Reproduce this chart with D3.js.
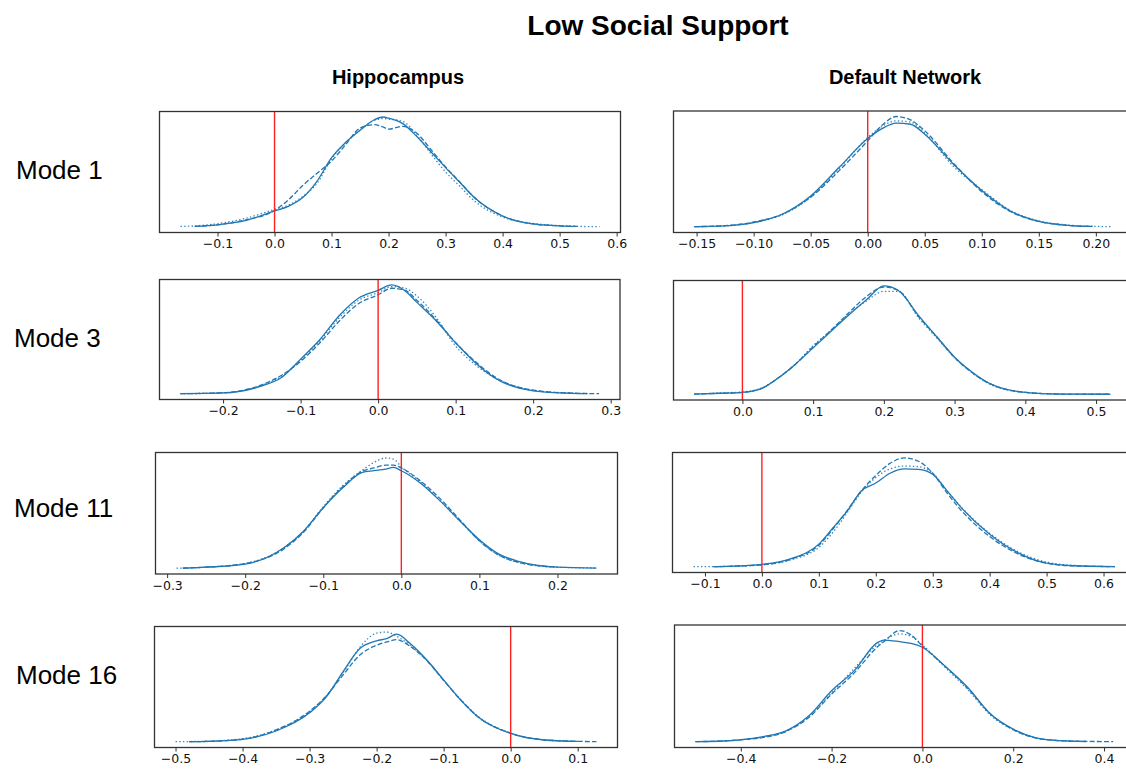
<!DOCTYPE html>
<html>
<head>
<meta charset="utf-8">
<script src="https://cdn.jsdelivr.net/npm/d3@7"></script>
<style>
  body { margin: 0; background: #fff; }
  svg { display: block; }
</style>
</head>
<body>
<div id="chart"></div>
<script>
// Title / labels
const title = 'Low Social Support';
const columns = ['Hippocampus', 'Default Network'];
const rows = ['Mode 1', 'Mode 3', 'Mode 11', 'Mode 16'];

// Hippocampus, Mode 1
const h1_x      = [-0.165, -0.14, -0.1, -0.05, 0, 0.025, 0.05, 0.075, 0.1, 0.125, 0.15, 0.175, 0.19, 0.2, 0.225, 0.25, 0.275, 0.3, 0.325, 0.35, 0.4, 0.45, 0.5, 0.53, 0.57];
const h1_solid  = [null, 0.005, 0.02, 0.06, 0.146, 0.19, 0.27, 0.42, 0.63, 0.77, 0.88, 0.975, 1.0, 0.99, 0.94, 0.82, 0.68, 0.54, 0.405, 0.27, 0.10, 0.03, 0.01, 0.005, null];
const h1_dashed = [null, 0.005, 0.02, 0.065, 0.15, 0.25, 0.38, 0.49, 0.6, 0.75, 0.9, 0.93, 0.91, 0.89, 0.915, 0.85, 0.70, 0.545, 0.41, 0.27, 0.10, 0.03, 0.01, 0.005, null];
const h1_dotted = [0.005, 0.01, 0.03, 0.08, 0.16, 0.2, 0.28, 0.40, 0.62, 0.77, 0.88, 0.97, 0.985, 0.98, 0.96, 0.83, 0.66, 0.50, 0.37, 0.24, 0.09, 0.035, 0.012, 0.006, 0.003];

// Default Network, Mode 1
const d1_x      = [-0.152, -0.125, -0.1, -0.075, -0.05, -0.025, 0, 0.0125, 0.025, 0.0375, 0.05, 0.075, 0.1, 0.125, 0.15, 0.175, 0.197, 0.213];
const d1_solid  = [0.003, 0.01, 0.04, 0.115, 0.28, 0.54, 0.80, 0.89, 0.94, 0.93, 0.84, 0.57, 0.33, 0.145, 0.05, 0.015, 0.005, null];
const d1_dashed = [0.003, 0.012, 0.045, 0.115, 0.27, 0.51, 0.78, 0.92, 1.0, 0.97, 0.87, 0.58, 0.32, 0.14, 0.05, 0.015, 0.005, null];
const d1_dotted = [0.003, 0.01, 0.04, 0.11, 0.27, 0.53, 0.81, 0.91, 0.96, 0.95, 0.85, 0.55, 0.34, 0.15, 0.055, 0.018, 0.006, 0.003];

// Hippocampus, Mode 3
const h3_x      = [-0.255, -0.2, -0.15, -0.125, -0.1, -0.075, -0.05, -0.025, 0, 0.0175, 0.035, 0.05, 0.075, 0.1, 0.125, 0.15, 0.2, 0.25, 0.27, 0.285];
const h3_solid  = [0.003, 0.01, 0.075, 0.15, 0.32, 0.50, 0.72, 0.88, 0.95, 1.0, 0.945, 0.84, 0.67, 0.47, 0.29, 0.15, 0.03, 0.007, 0.004, null];
const h3_dashed = [0.003, 0.012, 0.085, 0.17, 0.30, 0.47, 0.67, 0.83, 0.91, 0.97, 0.95, 0.86, 0.68, 0.47, 0.30, 0.16, 0.035, 0.008, 0.005, 0.003];
const h3_dotted = [0.003, 0.01, 0.08, 0.16, 0.31, 0.49, 0.70, 0.86, 0.93, 0.985, 0.97, 0.90, 0.70, 0.44, 0.27, 0.15, 0.035, 0.008, 0.004, null];

// Default Network, Mode 3
const d3_x      = [-0.068, -0.03, 0, 0.025, 0.05, 0.075, 0.1, 0.125, 0.15, 0.175, 0.2, 0.22, 0.25, 0.275, 0.3, 0.325, 0.35, 0.4, 0.45, 0.52];
const d3_solid  = [0.005, 0.012, 0.02, 0.05, 0.15, 0.28, 0.43, 0.58, 0.73, 0.87, 1.0, 0.96, 0.72, 0.53, 0.345, 0.205, 0.10, 0.02, 0.005, 0.003];
const d3_dashed = [0.005, 0.012, 0.02, 0.05, 0.15, 0.28, 0.44, 0.59, 0.75, 0.90, 0.99, 0.96, 0.71, 0.53, 0.34, 0.20, 0.10, 0.02, 0.005, 0.003];
const d3_dotted = [0.005, 0.015, 0.025, 0.055, 0.15, 0.28, 0.45, 0.59, 0.74, 0.86, 0.95, 0.95, 0.70, 0.52, 0.34, 0.20, 0.095, 0.02, 0.005, 0.003];

// Hippocampus, Mode 11
const h11_x      = [-0.288, -0.28, -0.25, -0.2, -0.15, -0.125, -0.1, -0.075, -0.05, -0.035, -0.02, -0.01, 0, 0.025, 0.05, 0.075, 0.1, 0.125, 0.15, 0.2, 0.25];
const h11_solid  = [null, 0.003, 0.012, 0.04, 0.19, 0.34, 0.55, 0.73, 0.87, 0.885, 0.90, 0.915, 0.885, 0.77, 0.61, 0.43, 0.26, 0.13, 0.065, 0.012, 0.004];
const h11_dashed = [null, 0.003, 0.012, 0.045, 0.18, 0.33, 0.55, 0.74, 0.88, 0.91, 0.935, 0.935, 0.91, 0.79, 0.63, 0.44, 0.25, 0.12, 0.055, 0.012, null];
const h11_dotted = [0.003, 0.003, 0.012, 0.045, 0.19, 0.34, 0.56, 0.75, 0.89, 0.96, 1.0, 0.99, 0.92, 0.78, 0.61, 0.43, 0.25, 0.12, 0.055, 0.012, 0.004];

// Default Network, Mode 11
const d11_x      = [-0.12, -0.085, -0.05, 0, 0.05, 0.1, 0.125, 0.15, 0.175, 0.2, 0.225, 0.25, 0.275, 0.3, 0.325, 0.35, 0.4, 0.45, 0.5, 0.55, 0.62];
const d11_solid  = [null, 0.003, 0.008, 0.024, 0.075, 0.21, 0.36, 0.515, 0.70, 0.77, 0.86, 0.90, 0.895, 0.85, 0.70, 0.545, 0.30, 0.13, 0.036, 0.012, 0.004];
const d11_dashed = [null, 0.003, 0.008, 0.02, 0.07, 0.20, 0.35, 0.52, 0.70, 0.84, 0.95, 1.0, 0.97, 0.86, 0.68, 0.52, 0.28, 0.12, 0.035, 0.01, 0.004];
const d11_dotted = [0.003, 0.004, 0.008, 0.02, 0.065, 0.18, 0.32, 0.50, 0.69, 0.82, 0.90, 0.925, 0.92, 0.86, 0.70, 0.55, 0.31, 0.14, 0.045, 0.015, null];

// Hippocampus, Mode 16
const h16_x      = [-0.5, -0.48, -0.45, -0.4, -0.35, -0.3, -0.275, -0.25, -0.225, -0.2, -0.185, -0.17, -0.15, -0.125, -0.1, -0.075, -0.05, 0, 0.05, 0.1, 0.128];
const h16_solid  = [null, 0.003, 0.006, 0.024, 0.10, 0.265, 0.41, 0.64, 0.85, 0.92, 0.94, 0.98, 0.895, 0.745, 0.565, 0.385, 0.235, 0.078, 0.018, 0.005, null];
const h16_dashed = [null, 0.003, 0.006, 0.025, 0.11, 0.28, 0.42, 0.61, 0.79, 0.88, 0.91, 0.93, 0.87, 0.74, 0.56, 0.385, 0.235, 0.08, 0.02, 0.006, 0.003];
const h16_dotted = [0.003, 0.004, 0.008, 0.03, 0.11, 0.27, 0.42, 0.63, 0.86, 0.99, 1.0, 0.96, 0.88, 0.74, 0.56, 0.39, 0.24, 0.08, 0.02, 0.005, null];

// Default Network, Mode 16
const d16_x      = [-0.5, -0.45, -0.4, -0.35, -0.3, -0.25, -0.2, -0.15, -0.1, -0.085, -0.05, -0.025, 0, 0.05, 0.1, 0.15, 0.2, 0.25, 0.3, 0.36, 0.42];
const d16_solid  = [0.003, 0.006, 0.018, 0.048, 0.10, 0.235, 0.46, 0.64, 0.89, 0.915, 0.90, 0.885, 0.85, 0.68, 0.49, 0.25, 0.115, 0.036, 0.012, 0.004, null];
const d16_dashed = [0.003, 0.006, 0.02, 0.04, 0.095, 0.22, 0.43, 0.62, 0.85, 0.90, 1.0, 0.96, 0.86, 0.68, 0.48, 0.25, 0.11, 0.035, 0.012, 0.005, 0.003];
const d16_dotted = [null, 0.006, 0.02, 0.045, 0.10, 0.23, 0.44, 0.66, 0.87, 0.91, 0.97, 0.95, 0.87, 0.67, 0.47, 0.24, 0.11, 0.035, 0.012, 0.004, null];

// Tick values per panel
const h1_ticks  = [-0.1, 0, 0.1, 0.2, 0.3, 0.4, 0.5, 0.6];
const d1_ticks  = [-0.15, -0.1, -0.05, 0, 0.05, 0.1, 0.15, 0.2];
const h3_ticks  = [-0.2, -0.1, 0, 0.1, 0.2, 0.3];
const d3_ticks  = [0, 0.1, 0.2, 0.3, 0.4, 0.5];
const h11_ticks = [-0.3, -0.2, -0.1, 0, 0.1, 0.2];
const d11_ticks = [-0.1, 0, 0.1, 0.2, 0.3, 0.4, 0.5, 0.6];
const h16_ticks = [-0.5, -0.4, -0.3, -0.2, -0.1, 0, 0.1];
const d16_ticks = [-0.4, -0.2, 0, 0.2, 0.4];

const W = 1126, H = 769;
const blue = '#1f77b4';

// panel boxes: [left, top, right, bottom]
const panels = [
  {x: h1_x,  s: h1_solid,  d: h1_dashed,  o: h1_dotted,  ticks: h1_ticks,  dec: 1, box: [159.5, 111.5, 620.5, 232.5]},
  {x: d1_x,  s: d1_solid,  d: d1_dashed,  o: d1_dotted,  ticks: d1_ticks,  dec: 2, box: [673.5, 111, 1131.5, 232.5]},
  {x: h3_x,  s: h3_solid,  d: h3_dashed,  o: h3_dotted,  ticks: h3_ticks,  dec: 1, box: [159.5, 279.5, 620, 399.5]},
  {x: d3_x,  s: d3_solid,  d: d3_dashed,  o: d3_dotted,  ticks: d3_ticks,  dec: 1, box: [673.5, 280.5, 1131, 400]},
  {x: h11_x, s: h11_solid, d: h11_dashed, o: h11_dotted, ticks: h11_ticks, dec: 1, box: [155.5, 452.5, 617.5, 574]},
  {x: d11_x, s: d11_solid, d: d11_dashed, o: d11_dotted, ticks: d11_ticks, dec: 1, box: [672.5, 452.5, 1136, 572.5]},
  {x: h16_x, s: h16_solid, d: h16_dashed, o: h16_dotted, ticks: h16_ticks, dec: 1, box: [154.5, 626.5, 617.5, 747.5]},
  {x: d16_x, s: d16_solid, d: d16_dashed, o: d16_dotted, ticks: d16_ticks, dec: 1, box: [674.5, 625, 1134, 747.5]}
];

const svg = d3.select('#chart').append('svg')
  .attr('width', W)
  .attr('height', H);

// Title and headers
svg.append('text')
  .attr('x', 658).attr('y', 35)
  .attr('text-anchor', 'middle')
  .style('font-family', 'Liberation Sans, Arial, sans-serif')
  .style('font-weight', 'bold')
  .style('font-size', '28px')
  .text(title);

svg.selectAll('.colhead')
  .data(columns)
  .join('text')
  .attr('class', 'colhead')
  .attr('x', (d, i) => i === 0 ? 398 : 905)
  .attr('y', 84)
  .attr('text-anchor', 'middle')
  .style('font-family', 'Liberation Sans, Arial, sans-serif')
  .style('font-weight', 'bold')
  .style('font-size', '20px')
  .text(d => d);

const rowY = [179, 347, 517, 684];
const rowX = [16, 14, 14, 16];
svg.selectAll('.rowlabel')
  .data(rows)
  .join('text')
  .attr('class', 'rowlabel')
  .attr('x', (d, i) => rowX[i])
  .attr('y', (d, i) => rowY[i])
  .style('font-family', 'Liberation Sans, Arial, sans-serif')
  .style('font-size', '26px')
  .text(d => d);

const minus = s => s.replace('-', '\u2212');

panels.forEach(p => {
  const [l, t, r, b] = p.box;

  // matplotlib style 5% margins on data extent
  const xs = p.x.filter((v, i) => p.s[i] != null || p.d[i] != null || p.o[i] != null);
  const xmin = d3.min(xs), xmax = d3.max(xs);
  const xm = (xmax - xmin) * 0.05;
  const x = d3.scaleLinear().domain([xmin - xm, xmax + xm]).range([l, r]);

  const ymax = d3.max([...p.s, ...p.d, ...p.o]);
  const y = d3.scaleLinear().domain([-0.05 * ymax, 1.05 * ymax]).range([b, t]);

  const g = svg.append('g');

  const clipId = 'clip' + Math.round(l) + '_' + Math.round(t);
  g.append('clipPath').attr('id', clipId)
    .append('rect').attr('x', l).attr('y', t).attr('width', r - l).attr('height', b - t);

  const line = d3.line()
    .defined(d => d[1] != null)
    .x(d => x(d[0]))
    .y(d => y(d[1]))
    .curve(d3.curveMonotoneX);

  const plot = g.append('g').attr('clip-path', `url(#${clipId})`);

  const styles = [
    {vals: p.o, dash: '1.4,2.3', w: 1.3, op: 0.9},
    {vals: p.d, dash: '5,2.2', w: 1.3, op: 1},
    {vals: p.s, dash: null, w: 1.3, op: 1}
  ];
  styles.forEach(st => {
    plot.append('path')
      .datum(p.x.map((v, i) => [v, st.vals[i]]))
      .attr('d', line)
      .attr('fill', 'none')
      .attr('stroke', blue)
      .attr('stroke-width', st.w)
      .attr('stroke-opacity', st.op)
      .attr('stroke-dasharray', st.dash);
  });

  // red zero line
  plot.append('line')
    .attr('x1', x(0)).attr('x2', x(0))
    .attr('y1', t).attr('y2', b)
    .attr('stroke', '#ff2020')
    .attr('stroke-width', 1.4);

  // frame
  g.append('rect')
    .attr('x', l).attr('y', t)
    .attr('width', r - l).attr('height', b - t)
    .attr('fill', 'none')
    .attr('stroke', '#333')
    .attr('stroke-width', 1.3);

  // x axis
  const axis = d3.axisBottom(x)
    .tickValues(p.ticks)
    .tickSize(4)
    .tickPadding(3)
    .tickFormat(v => minus(d3.format(`.${p.dec}f`)(v)));

  const ax = g.append('g')
    .attr('transform', `translate(0,${b})`)
    .call(axis);
  ax.select('.domain').remove();
  ax.selectAll('.tick line').attr('stroke', '#333');
  ax.selectAll('.tick text')
    .style('font-family', 'DejaVu Sans, sans-serif')
    .style('font-size', '12.5px')
    .attr('fill', '#111');
});
</script>
</body>
</html>
